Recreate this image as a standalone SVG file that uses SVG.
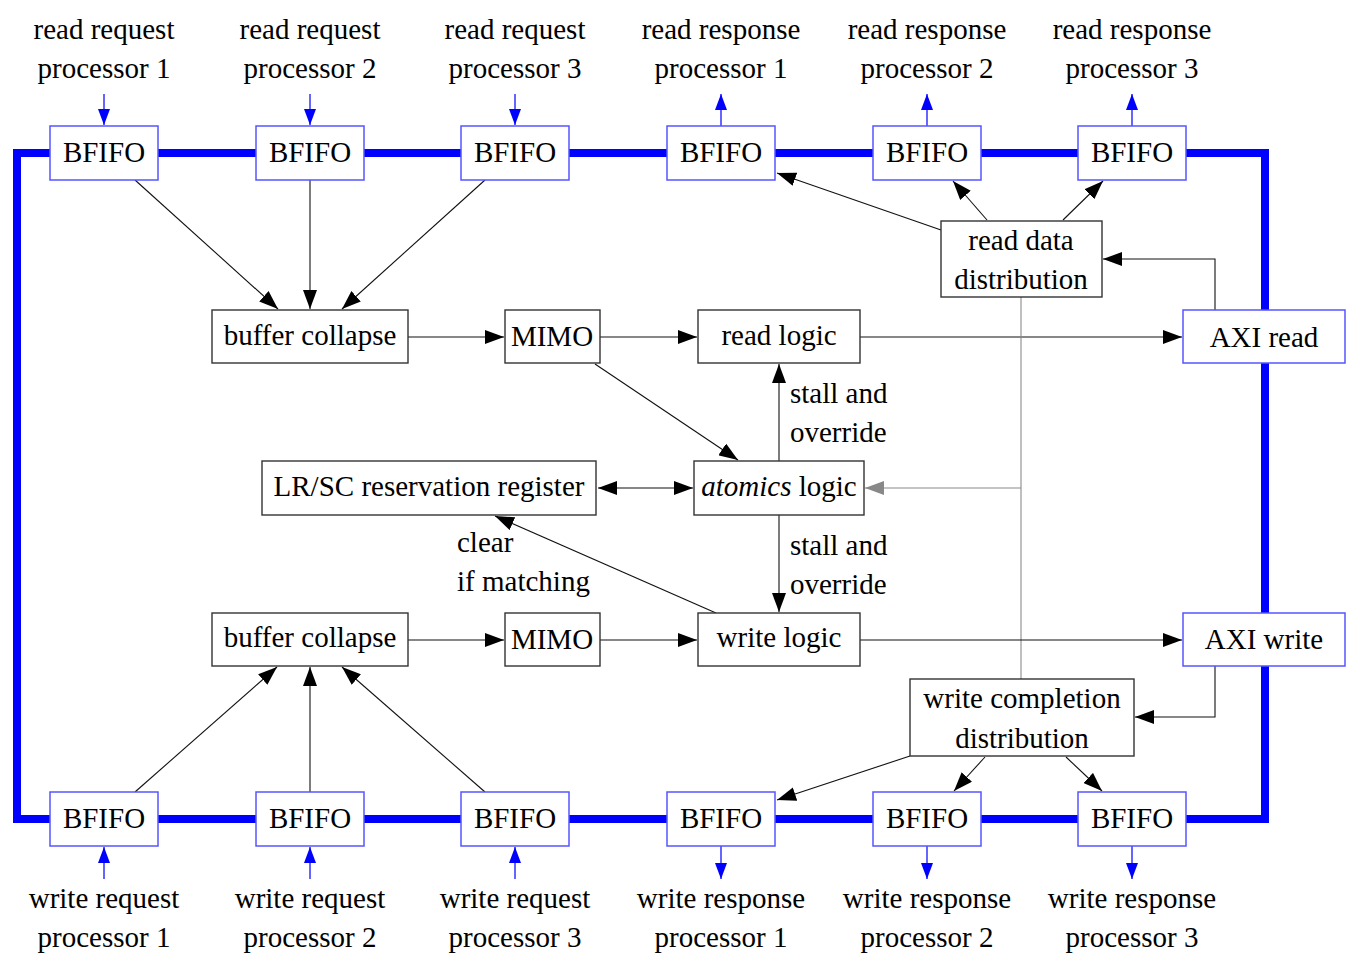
<svg xmlns="http://www.w3.org/2000/svg" width="1367" height="969" viewBox="0 0 1367 969">
<style>
text{font-family:"Liberation Serif","Times New Roman",serif;font-size:29px;fill:#000;text-anchor:middle;dominant-baseline:central}
.box{fill:#fff;stroke:#333;stroke-width:1.4}
.bbox{fill:#fff;stroke:#5555ff;stroke-width:1.5}
.c{fill:none;stroke:#111;stroke-width:1.1}
.cg{fill:none;stroke:#8a8a8a;stroke-width:1.1}
.cb{fill:none;stroke:#3333ff;stroke-width:1.5}
.bus{fill:none;stroke:#0000ff;stroke-width:8}
</style>
<defs>
<marker id="ah" markerUnits="userSpaceOnUse" markerWidth="20" markerHeight="14" viewBox="0 0 20 14" refX="19" refY="7" orient="auto-start-reverse"><path d="M0,0 L19,7 L0,14 Z" fill="#000"/></marker>
<marker id="ahg" markerUnits="userSpaceOnUse" markerWidth="20" markerHeight="14" viewBox="0 0 20 14" refX="19" refY="7" orient="auto"><path d="M0,0 L19,7 L0,14 Z" fill="#888"/></marker>
<marker id="ahb" markerUnits="userSpaceOnUse" markerWidth="16" markerHeight="12" viewBox="0 0 16 12" refX="16" refY="6" orient="auto"><path d="M0,0 L16,6 L0,12 Z" fill="#0000ff"/></marker>
</defs>

<path class="bus" d="M104,153 H1265 V819 H17 V153 H104"/>

<g id="connectors">
<line class="cb" x1="104" y1="94" x2="104" y2="125" marker-end="url(#ahb)"/>
<line class="cb" x1="310" y1="94" x2="310" y2="125" marker-end="url(#ahb)"/>
<line class="cb" x1="515" y1="94" x2="515" y2="125" marker-end="url(#ahb)"/>
<line class="cb" x1="721" y1="126" x2="721" y2="94" marker-end="url(#ahb)"/>
<line class="cb" x1="927" y1="126" x2="927" y2="94" marker-end="url(#ahb)"/>
<line class="cb" x1="1132" y1="126" x2="1132" y2="94" marker-end="url(#ahb)"/>
<line class="cb" x1="104" y1="879" x2="104" y2="847" marker-end="url(#ahb)"/>
<line class="cb" x1="310" y1="879" x2="310" y2="847" marker-end="url(#ahb)"/>
<line class="cb" x1="515" y1="879" x2="515" y2="847" marker-end="url(#ahb)"/>
<line class="cb" x1="721" y1="846" x2="721" y2="879" marker-end="url(#ahb)"/>
<line class="cb" x1="927" y1="846" x2="927" y2="879" marker-end="url(#ahb)"/>
<line class="cb" x1="1132" y1="846" x2="1132" y2="879" marker-end="url(#ahb)"/>
<line class="c" x1="135" y1="180" x2="278" y2="309" marker-end="url(#ah)"/>
<line class="c" x1="310" y1="180" x2="310" y2="309" marker-end="url(#ah)"/>
<line class="c" x1="485" y1="180" x2="342" y2="309" marker-end="url(#ah)"/>
<line class="c" x1="408" y1="337" x2="504" y2="337" marker-end="url(#ah)"/>
<line class="c" x1="600" y1="337" x2="697" y2="337" marker-end="url(#ah)"/>
<line class="c" x1="860" y1="337" x2="1182" y2="337" marker-end="url(#ah)"/>
<line class="c" x1="595" y1="364" x2="738" y2="460" marker-end="url(#ah)"/>
<line class="c" x1="779" y1="461" x2="779" y2="364" marker-end="url(#ah)"/>
<line class="c" x1="779" y1="515" x2="779" y2="612" marker-end="url(#ah)"/>
<line class="c" x1="598" y1="488" x2="693" y2="488" marker-start="url(#ah)" marker-end="url(#ah)"/>
<line class="c" x1="716" y1="613" x2="495" y2="516" marker-end="url(#ah)"/>
<line class="cg" x1="1021" y1="297" x2="1021" y2="679"/>
<line class="cg" x1="1021" y1="488" x2="865" y2="488" marker-end="url(#ahg)"/>
<line class="c" x1="135" y1="792" x2="277" y2="667" marker-end="url(#ah)"/>
<line class="c" x1="310" y1="792" x2="310" y2="667" marker-end="url(#ah)"/>
<line class="c" x1="485" y1="792" x2="342" y2="667" marker-end="url(#ah)"/>
<line class="c" x1="408" y1="640" x2="504" y2="640" marker-end="url(#ah)"/>
<line class="c" x1="600" y1="640" x2="697" y2="640" marker-end="url(#ah)"/>
<line class="c" x1="860" y1="640" x2="1182" y2="640" marker-end="url(#ah)"/>
<path class="c" d="M1215,310 V259 H1103" marker-end="url(#ah)"/>
<line class="c" x1="941" y1="230" x2="777" y2="173" marker-end="url(#ah)"/>
<line class="c" x1="987" y1="220" x2="953" y2="181" marker-end="url(#ah)"/>
<line class="c" x1="1063" y1="220" x2="1103" y2="181" marker-end="url(#ah)"/>
<path class="c" d="M1215,666 V717 H1135" marker-end="url(#ah)"/>
<line class="c" x1="910" y1="756" x2="777" y2="800" marker-end="url(#ah)"/>
<line class="c" x1="985" y1="757" x2="954" y2="791" marker-end="url(#ah)"/>
<line class="c" x1="1066" y1="757" x2="1102" y2="791" marker-end="url(#ah)"/>
</g>

<g id="labels">
<text x="104" y="29">read request</text><text x="104" y="68">processor 1</text>
<text x="310" y="29">read request</text><text x="310" y="68">processor 2</text>
<text x="515" y="29">read request</text><text x="515" y="68">processor 3</text>
<text x="721" y="29">read response</text><text x="721" y="68">processor 1</text>
<text x="927" y="29">read response</text><text x="927" y="68">processor 2</text>
<text x="1132" y="29">read response</text><text x="1132" y="68">processor 3</text>
<text x="104" y="898">write request</text><text x="104" y="937">processor 1</text>
<text x="310" y="898">write request</text><text x="310" y="937">processor 2</text>
<text x="515" y="898">write request</text><text x="515" y="937">processor 3</text>
<text x="721" y="898">write response</text><text x="721" y="937">processor 1</text>
<text x="927" y="898">write response</text><text x="927" y="937">processor 2</text>
<text x="1132" y="898">write response</text><text x="1132" y="937">processor 3</text>
<text x="790" y="393" style="text-anchor:start">stall and</text>
<text x="790" y="432" style="text-anchor:start">override</text>
<text x="790" y="545" style="text-anchor:start">stall and</text>
<text x="790" y="584" style="text-anchor:start">override</text>
<text x="457" y="542" style="text-anchor:start">clear</text>
<text x="457" y="581" style="text-anchor:start">if matching</text>
</g>

<g id="bfifo-rr1"><rect class="bbox" x="50" y="126" width="108" height="54"/><text x="104" y="152">BFIFO</text></g>
<g id="bfifo-rr2"><rect class="bbox" x="256" y="126" width="108" height="54"/><text x="310" y="152">BFIFO</text></g>
<g id="bfifo-rr3"><rect class="bbox" x="461" y="126" width="108" height="54"/><text x="515" y="152">BFIFO</text></g>
<g id="bfifo-rs1"><rect class="bbox" x="667" y="126" width="108" height="54"/><text x="721" y="152">BFIFO</text></g>
<g id="bfifo-rs2"><rect class="bbox" x="873" y="126" width="108" height="54"/><text x="927" y="152">BFIFO</text></g>
<g id="bfifo-rs3"><rect class="bbox" x="1078" y="126" width="108" height="54"/><text x="1132" y="152">BFIFO</text></g>
<g id="bfifo-wr1"><rect class="bbox" x="50" y="792" width="108" height="54"/><text x="104" y="818">BFIFO</text></g>
<g id="bfifo-wr2"><rect class="bbox" x="256" y="792" width="108" height="54"/><text x="310" y="818">BFIFO</text></g>
<g id="bfifo-wr3"><rect class="bbox" x="461" y="792" width="108" height="54"/><text x="515" y="818">BFIFO</text></g>
<g id="bfifo-ws1"><rect class="bbox" x="667" y="792" width="108" height="54"/><text x="721" y="818">BFIFO</text></g>
<g id="bfifo-ws2"><rect class="bbox" x="873" y="792" width="108" height="54"/><text x="927" y="818">BFIFO</text></g>
<g id="bfifo-ws3"><rect class="bbox" x="1078" y="792" width="108" height="54"/><text x="1132" y="818">BFIFO</text></g>

<g id="buffer-collapse-read"><rect class="box" x="212" y="310" width="196" height="53"/><text x="310" y="335">buffer collapse</text></g>
<g id="mimo-read"><rect class="box" x="505" y="310" width="95" height="53"/><text x="552" y="336">MIMO</text></g>
<g id="read-logic"><rect class="box" x="698" y="310" width="162" height="53"/><text x="779" y="335">read logic</text></g>
<g id="axi-read"><rect class="bbox" x="1183" y="310" width="162" height="53"/><text x="1264" y="337">AXI read</text></g>
<g id="read-data-distribution"><rect class="box" x="941" y="221" width="161" height="76"/><text x="1021" y="240">read data</text><text x="1021" y="279">distribution</text></g>
<g id="lrsc"><rect class="box" x="262" y="461" width="334" height="54"/><text x="429" y="486">LR/SC reservation register</text></g>
<g id="atomics-logic"><rect class="box" x="694" y="461" width="170" height="54"/><text x="779" y="486"><tspan font-style="italic">atomics</tspan> logic</text></g>
<g id="buffer-collapse-write"><rect class="box" x="212" y="613" width="196" height="53"/><text x="310" y="637">buffer collapse</text></g>
<g id="mimo-write"><rect class="box" x="505" y="613" width="95" height="53"/><text x="552" y="639">MIMO</text></g>
<g id="write-logic"><rect class="box" x="698" y="613" width="162" height="53"/><text x="779" y="637">write logic</text></g>
<g id="axi-write"><rect class="bbox" x="1183" y="613" width="162" height="53"/><text x="1264" y="639">AXI write</text></g>
<g id="write-completion-distribution"><rect class="box" x="910" y="679" width="224" height="77"/><text x="1022" y="698">write completion</text><text x="1022" y="738">distribution</text></g>
</svg>
